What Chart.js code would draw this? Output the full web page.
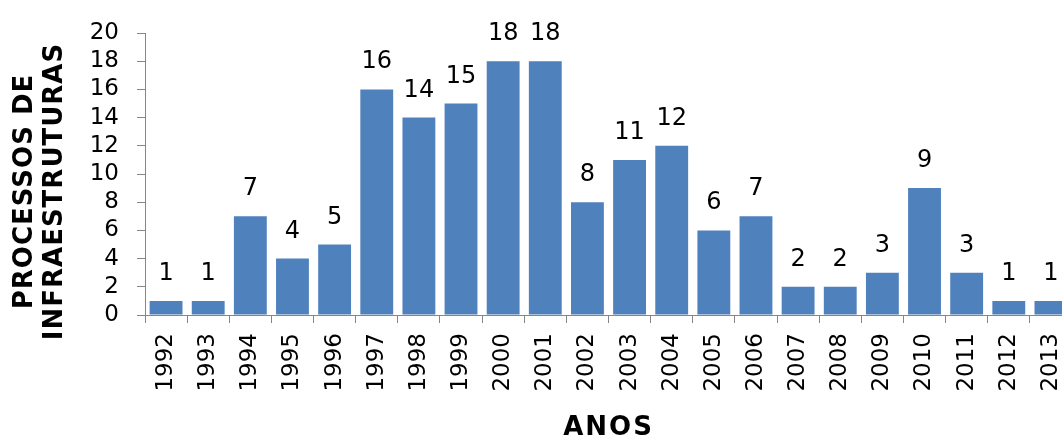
<!DOCTYPE html>
<html><head><meta charset="utf-8">
<script src="https://cdn.jsdelivr.net/npm/chart.js@4/dist/chart.umd.min.js"></script>
<style>html,body{margin:0;padding:0;overflow:hidden;background:#fff;width:1062px;height:438px}canvas{display:block}</style>
</head><body>
<canvas id="c" width="1080" height="438"></canvas>
<script>
const years = ['1992','1993','1994','1995','1996','1997','1998','1999','2000','2001','2002','2003','2004','2005','2006','2007','2008','2009','2010','2011','2012','2013'];
const processos = [1,1,7,4,5,16,14,15,18,18,8,11,12,6,7,2,2,3,9,3,1,1];
const yMin = 0, yMax = 20, yStep = 2;
const yTitle = ['PROCESSOS DE','INFRAESTRUTURAS'];
const xTitle = 'ANOS';

const valueLabels = {
  id: 'valueLabels',
  afterDatasetsDraw(chart) {
    const ctx = chart.ctx;
    ctx.save();
    ctx.font = '24px "DejaVu Sans"';
    ctx.fillStyle = '#000';
    ctx.textAlign = 'center';
    ctx.textBaseline = 'alphabetic';
    chart.getDatasetMeta(0).data.forEach((bar, i) => {
      ctx.fillText(String(processos[i]), bar.x, bar.y - 21);
    });
    ctx.restore();
  }
};

const axisTitles = {
  id: 'axisTitles',
  afterDraw(chart) {
    const ctx = chart.ctx, a = chart.chartArea;
    ctx.save();
    ctx.fillStyle = '#000';
    ctx.font = 'bold 26px "DejaVu Sans"';
    ctx.letterSpacing = '1px';
    ctx.textAlign = 'center';
    ctx.textBaseline = 'middle';
    const cy = (a.top + a.bottom) / 2 + 18;
    [[25, yTitle[0]], [55, yTitle[1]]].forEach(([x, t]) => {
      ctx.save();
      ctx.translate(x, cy);
      ctx.rotate(-Math.PI / 2);
      ctx.fillText(t, 0.5, 0);
      ctx.restore();
    });
    ctx.font = 'bold 26px "DejaVu Sans"';
    ctx.letterSpacing = '2px';
    ctx.textBaseline = 'alphabetic';
    ctx.fillText(xTitle, (a.left + a.right) / 2, 435);
    ctx.restore();
  }
};

new Chart(document.getElementById('c'), {
  type: 'bar',
  data: {
    labels: years,
    datasets: [{
      data: processos,
      backgroundColor: '#4F81BD',
      borderWidth: 0,
      barPercentage: 0.78,
      categoryPercentage: 1.0
    }]
  },
  options: {
    responsive: false,
    animation: false,
    events: [],
    layout: { padding: { left: 0, right: 8, top: 33, bottom: 0 } },
    plugins: { legend: { display: false }, tooltip: { enabled: false }, title: { display: false } },
    scales: {
      x: {
        grid: { offset: true, drawOnChartArea: false, drawTicks: true, tickLength: 8, color: '#868686', lineWidth: 1 },
        border: { color: '#868686', width: 1 },
        ticks: { autoSkip: false, maxRotation: 90, minRotation: 90, padding: 10, color: '#000', font: { family: 'DejaVu Sans', size: 23 } },
        afterFit(s) { s.height = 123; s.paddingLeft = 0; s.paddingRight = 0; }
      },
      y: {
        min: yMin, max: yMax,
        grid: { drawOnChartArea: false, drawTicks: true, tickLength: 8, color: '#868686', lineWidth: 1 },
        border: { color: '#868686', width: 1 },
        ticks: { autoSkip: false, stepSize: yStep, padding: 18, color: '#000', font: { family: 'DejaVu Sans', size: 23, lineHeight: 1 } },
        afterFit(s) { s.width = 145; s.paddingTop = 0; s.paddingBottom = 0; }
      }
    }
  },
  plugins: [valueLabels, axisTitles]
});
</script>
</body></html>
